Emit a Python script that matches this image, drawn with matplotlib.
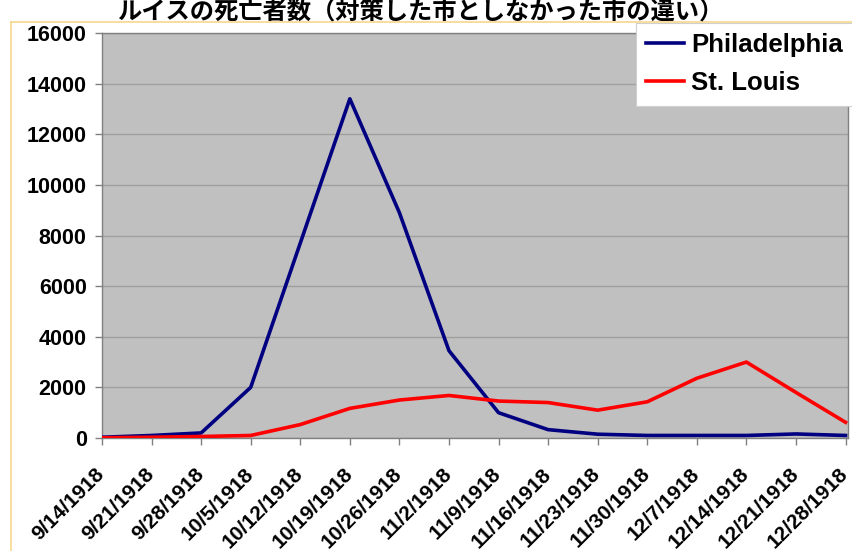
import matplotlib.pyplot as plt
from matplotlib.lines import Line2D
from matplotlib.transforms import ScaledTranslation

# データ
dates = ['9/14/1918', '9/21/1918', '9/28/1918', '10/5/1918', '10/12/1918',
         '10/19/1918', '10/26/1918', '11/2/1918', '11/9/1918', '11/16/1918',
         '11/23/1918', '11/30/1918', '12/7/1918', '12/14/1918', '12/21/1918',
         '12/28/1918']
philadelphia = [30, 100, 200, 2000, 7700, 13400, 8900, 3450, 1000, 330,
                150, 100, 100, 100, 160, 100]
st_louis = [10, 30, 60, 100, 530, 1170, 1500, 1680, 1460, 1400,
            1100, 1430, 2360, 3000, 1800, 620]
yticks = [0, 2000, 4000, 6000, 8000, 10000, 12000, 14000, 16000]

title = 'ルイスの死亡者数（対策した市としなかった市の違い）'

plt.rcParams['font.family'] = ['Liberation Sans', 'DejaVu Sans']

W, H = 853, 551
fig = plt.figure(figsize=(W / 100, H / 100), dpi=100)
fig.patch.set_facecolor('white')

ax = fig.add_axes([102 / W, 1 - 438 / H, 746 / W, 405 / H])
ax.set_facecolor('#C0C0C0')

x = list(range(len(dates)))
ax.plot(x, philadelphia, color='#000080', lw=2.6, label='Philadelphia', zorder=3)
ax.plot(x, st_louis, color='#FF0000', lw=2.6, label='St. Louis', zorder=3)

ax.set_xlim(0, 15.05)
ax.set_ylim(0, 16000)
ax.set_yticks(yticks)
ax.set_yticklabels([str(v) for v in yticks], fontsize=15.5, fontweight='bold')
ax.set_xticks(x)
ax.set_xticklabels(dates, rotation=45, ha='right', va='top',
                   rotation_mode='anchor', fontsize=15, fontweight='bold')
ax.tick_params(axis='both', direction='out', length=5, color='#808080',
               width=1, pad=6)
ax.tick_params(axis='x', pad=14)
# ラベルを少し左へずらす
shift = ScaledTranslation(-7 / 100, 0, fig.dpi_scale_trans)
for lbl in ax.get_xticklabels():
    lbl.set_transform(lbl.get_transform() + shift)
ax.yaxis.grid(True, color='#A0A0A0', lw=1)
ax.set_axisbelow(True)
for s in ax.spines.values():
    s.set_color('#808080')
    s.set_linewidth(1)

leg = ax.legend(loc='upper left', bbox_to_anchor=(636 / W, 1 - 23 / H),
                bbox_transform=fig.transFigure, borderaxespad=0,
                fancybox=False, frameon=True, handlelength=1.45,
                handletextpad=0.3, labelspacing=0.55, borderpad=0.4,
                prop={'size': 18.5, 'weight': 'bold'})
leg.get_frame().set_edgecolor('#D0D0D0')
leg.get_frame().set_linewidth(0.8)
leg.get_frame().set_alpha(1)

# 枠線（薄い金色）
fig.add_artist(Line2D([11 / W, 11 / W], [0, 1 - 22 / H], transform=fig.transFigure,
                      color='#F5D88E', lw=1.2))
fig.add_artist(Line2D([11 / W, 1], [1 - 22 / H, 1 - 22 / H], transform=fig.transFigure,
                      color='#F5D88E', lw=1.2))

fig.text(420 / W, 1 - 19 / H, title, ha='center', va='baseline',
         fontsize=17.5, fontweight='bold',
         family=['Noto Sans CJK JP', 'DejaVu Sans'])

fig.savefig('out.png', dpi=100)
